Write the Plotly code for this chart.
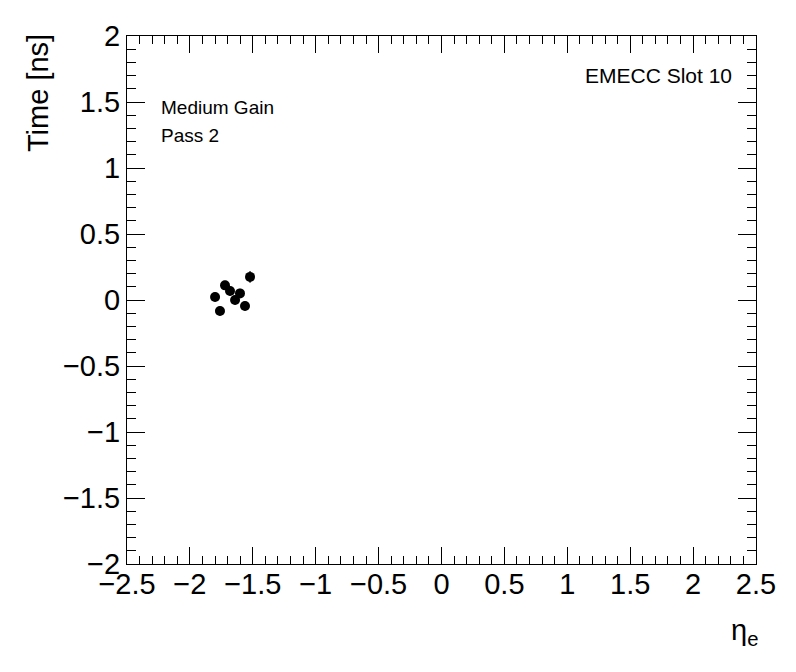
import plotly.graph_objects as go

eta = [-1.522, -1.721, -1.681, -1.602, -1.641, -1.800, -1.562, -1.761]
time_ns = [0.175, 0.111, 0.068, 0.050, 0.000, 0.023, -0.045, -0.083]
time_err = [0.045, 0.035, 0.035, 0.035, 0.035, 0.035, 0.035, 0.035]
eta_err = [0.02] * 8

x_ticks = [-2.5, -2, -1.5, -1, -0.5, 0, 0.5, 1, 1.5, 2, 2.5]
x_labels = ["\u22122.5", "\u22122", "\u22121.5", "\u22121", "\u22120.5", "0", "0.5", "1", "1.5", "2", "2.5"]
y_ticks = [-2, -1.5, -1, -0.5, 0, 0.5, 1, 1.5, 2]
y_labels = ["\u22122", "\u22121.5", "\u22121", "\u22120.5", "0", "0.5", "1", "1.5", "2"]

FONT = "Liberation Sans, Arial, sans-serif"

fig = go.Figure()
fig.add_trace(go.Scatter(
    x=eta, y=time_ns, mode="markers",
    marker=dict(color="black", size=10, symbol="circle"),
    error_y=dict(type="data", array=time_err, color="black", thickness=1.2, width=0),
    error_x=dict(type="data", array=eta_err, color="black", thickness=1.2, width=0),
    showlegend=False,
))

axis_common = dict(
    showgrid=False, zeroline=False, showline=True, linecolor="black", linewidth=1,
    mirror="allticks", ticks="inside", tickcolor="black", tickwidth=1,
    tickfont=dict(family=FONT, size=29, color="black"),
)

fig.update_xaxes(
    range=[-2.5, 2.5], tickvals=x_ticks, ticktext=x_labels, ticklen=17,
    ticklabelstandoff=-6,
    minor=dict(dtick=0.1, ticks="inside", ticklen=8, tickcolor="black", tickwidth=1, showgrid=False),
    **axis_common,
)
fig.update_yaxes(
    range=[-2, 2], tickvals=y_ticks, ticktext=y_labels, ticklen=18,
    minor=dict(dtick=0.1, ticks="inside", ticklen=9, tickcolor="black", tickwidth=1, showgrid=False),
    **axis_common,
)

W_PLOT = 629.0
H_PLOT = 530.0

def px_x(p):
    return (p - 127) / W_PLOT

def px_y(p):
    return (564 - p) / H_PLOT

annotations = [
    dict(text="EMECC Slot 10", x=px_x(734), y=px_y(74), xref="paper", yref="paper",
         xanchor="right", yanchor="middle", showarrow=False,
         font=dict(family=FONT, size=21, color="black")),
    dict(text="Medium Gain", x=px_x(159), y=px_y(106), xref="paper", yref="paper",
         xanchor="left", yanchor="middle", showarrow=False,
         font=dict(family=FONT, size=19, color="black")),
    dict(text="Pass 2", x=px_x(159), y=px_y(134), xref="paper", yref="paper",
         xanchor="left", yanchor="middle", showarrow=False,
         font=dict(family=FONT, size=19, color="black")),
    dict(text="Time [ns]", x=px_x(38), y=px_y(30), xref="paper", yref="paper",
         xanchor="center", yanchor="top", textangle=-90, showarrow=False,
         font=dict(family=FONT, size=29, color="black")),
    dict(text="\u03b7<sub>e</sub>", x=px_x(760), y=px_y(612), xref="paper", yref="paper",
         xanchor="right", yanchor="top", showarrow=False,
         font=dict(family=FONT, size=29, color="black")),
]

fig.update_layout(
    width=796, height=672,
    margin=dict(l=119, r=48, t=26, b=116),
    paper_bgcolor="white", plot_bgcolor="white",
    annotations=annotations,
)

fig.write_html("out.html")
